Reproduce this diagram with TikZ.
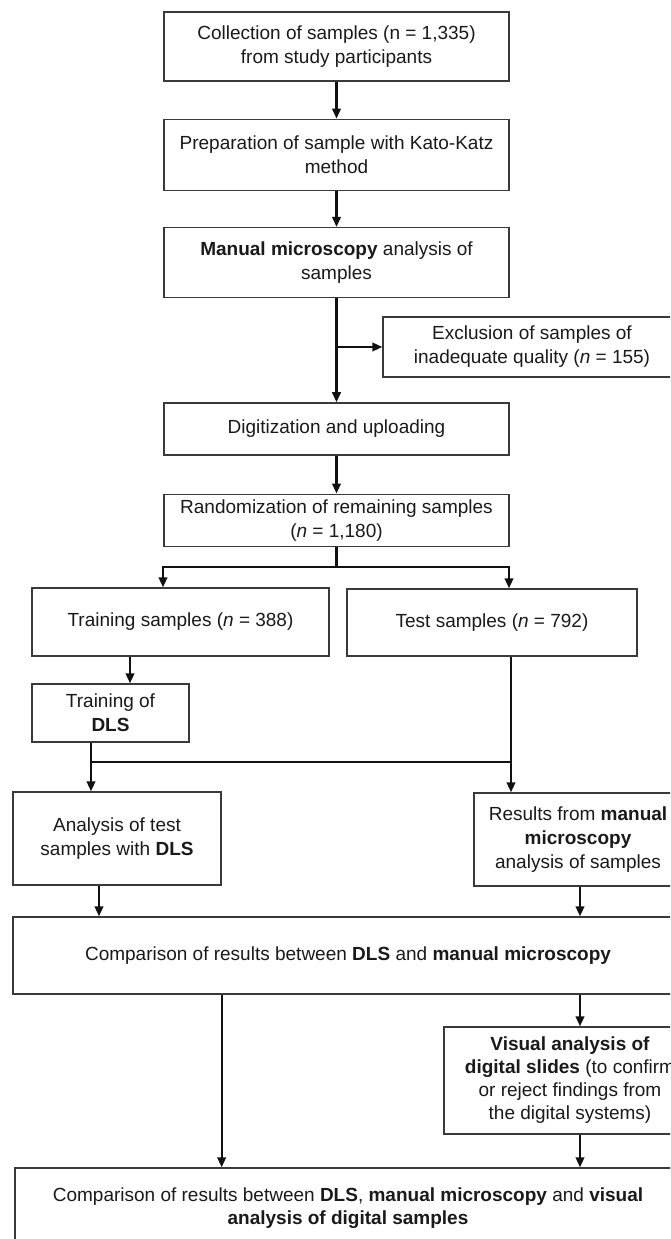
\documentclass[tikz,border=0pt]{standalone}
\usepackage{fontspec}
\setmainfont{Liberation Sans}
\usepackage{tikz}
\usetikzlibrary{arrows.meta,positioning}
\definecolor{FlowBorder}{HTML}{3A3A3A}
\definecolor{FlowArrow}{HTML}{111111}
\definecolor{FlowText}{HTML}{1A1A1A}

\begin{document}
\begin{tikzpicture}[x=1pt,y=1pt,
  nbox/.style={draw=FlowBorder,fill=white,line width=1.3pt,align=center,
    inner sep=2pt,text=FlowText,font=\fontsize{19}{24}\selectfont},
  nmain/.style={nbox,minimum width=345pt},
  arr/.style={-{Triangle[length=10pt,width=8.5pt]},draw=FlowArrow,line width=2.3pt},
  ln/.style={draw=FlowArrow,line width=2.3pt}
]
\useasboundingbox (0,0) rectangle (670,1239);
\clip (0,0) rectangle (670,1239);
% main column
\node[nmain,minimum height=69pt] (collect) at (336.5,1192.5)
  {Collection of samples (n = 1,335)\\from study participants};
\node[nmain,minimum height=71pt,below=37pt of collect] (prep)
  {Preparation of sample with Kato-Katz\\method};
\node[nmain,minimum height=70pt,below=36pt of prep] (manual)
  {\textbf{Manual microscopy} analysis of\\samples};
\node[nmain,minimum height=52pt,below=104pt of manual] (digit)
  {Digitization and uploading};
\node[nmain,minimum height=52pt,below=38pt of digit] (random)
  {Randomization of remaining samples\\(\textit{n} = 1,180)};
\node[nbox,minimum width=298pt,minimum height=60pt] (excl) at (532,892)
  {Exclusion of samples of\\inadequate quality (\textit{n} = 155)};
% two branches
\node[nbox,minimum width=297pt,minimum height=68pt] (train) at (180.5,617)
  {Training samples (\textit{n} = 388)};
\node[nbox,minimum width=290pt,minimum height=67pt] (test) at (492,616.5)
  {Test samples (\textit{n} = 792)};
\node[nbox,minimum width=157pt,minimum height=58pt] (dls) at (110.5,526)
  {Training of\\\textbf{DLS}};
\node[nbox,minimum width=208pt,minimum height=93pt] (ana) at (117,400.5)
  {Analysis of test\\samples with \textbf{DLS}};
\node[nbox,minimum width=208pt,minimum height=93pt] (res) at (578,399.5)
  {Results from \textbf{manual}\\\textbf{microscopy}\\analysis of samples};
\node[nbox,minimum width=670pt,minimum height=77pt] (comp) at (348,283.5)
  {Comparison of results between \textbf{DLS} and \textbf{manual microscopy}};
\node[nbox,minimum width=252pt,minimum height=107pt,
  font=\fontsize{19}{23}\selectfont] (vis) at (570,158.5)
  {\textbf{Visual analysis of}\\\textbf{digital slides} (to confirm\\or reject findings from\\the digital systems)};
\node[nbox,minimum width=666pt,minimum height=81pt,
  font=\fontsize{19}{23}\selectfont] (final) at (348,30.5)
  {Comparison of results between \textbf{DLS}, \textbf{manual microscopy} and \textbf{visual}\\\textbf{analysis of digital samples}};
% connectors
\draw[arr] (collect.south)--(prep.north);
\draw[arr] (prep.south)--(manual.north);
\draw[arr] (manual.south)--(digit.north);
\draw[arr] (manual.south |- excl.west)--(excl.west);
\draw[arr] (digit.south)--(random.north);
\coordinate (split) at ([yshift=-20pt]random.south);
\draw[ln] (random.south)--(split);
\draw[arr] (split) -| ([xshift=-17.5pt]train.north);
\draw[arr] (split) -| ([xshift=17pt]test.north);
\draw[arr] ([xshift=19.5pt]dls.north |- train.south)--([xshift=19.5pt]dls.north);
\coordinate (join) at (511,477);
\draw[arr] ([xshift=-19.5pt]dls.south)--([xshift=-19.5pt]dls.south |- ana.north);
\draw[ln] ([xshift=-19.5pt]dls.south |- join)--(join);
\draw[arr] ([xshift=19pt]test.south)--([xshift=19pt]test.south |- res.north);
\draw[arr] ([xshift=-18pt]ana.south)--([xshift=-18pt]ana.south |- comp.north);
\draw[arr] ([xshift=2pt]res.south)--([xshift=2pt]res.south |- comp.north);
\draw[arr] (comp.south -| ana.east)--(ana.east |- final.north);
\draw[arr] ([xshift=10pt]vis.north |- comp.south)--([xshift=10pt]vis.north);
\draw[arr] ([xshift=10pt]vis.south)--([xshift=10pt]vis.south |- final.north);
\end{tikzpicture}
\end{document}
